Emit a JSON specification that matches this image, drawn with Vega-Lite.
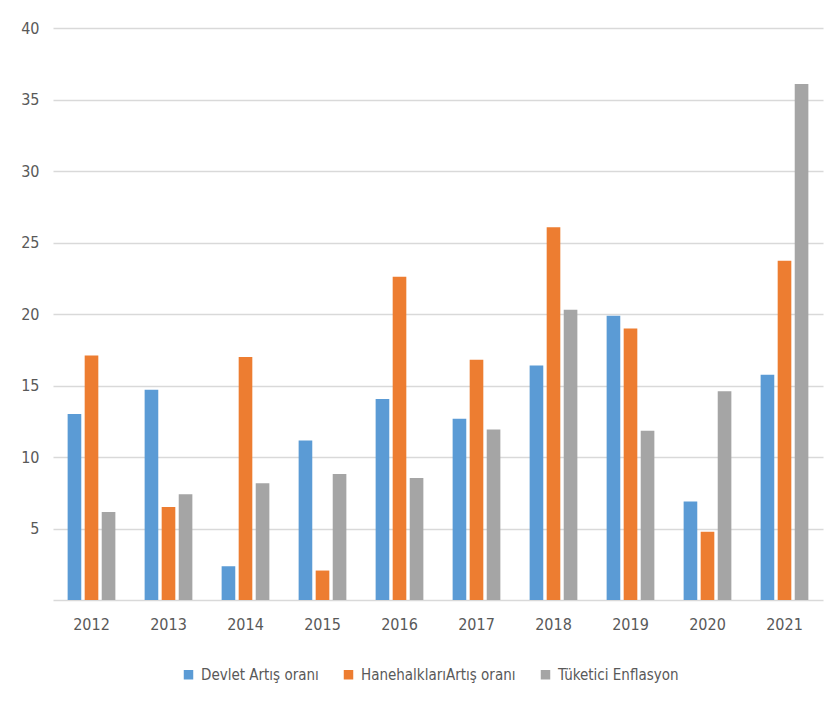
{
  "$schema": "https://vega.github.io/schema/vega-lite/v6.json",
  "width": 770,
  "height": 572,
  "autosize": {"type": "none"},
  "padding": {"left": 53, "top": 28, "right": 16, "bottom": 115},
  "background": "white",
  "data": {
    "values": [
      {"year": "2012", "series": "Devlet Artış oranı", "value": 13.0},
      {"year": "2012", "series": "HanehalklarıArtış oranı", "value": 17.1},
      {"year": "2012", "series": "Tüketici Enflasyon", "value": 6.16},
      {"year": "2013", "series": "Devlet Artış oranı", "value": 14.7},
      {"year": "2013", "series": "HanehalklarıArtış oranı", "value": 6.5},
      {"year": "2013", "series": "Tüketici Enflasyon", "value": 7.4},
      {"year": "2014", "series": "Devlet Artış oranı", "value": 2.36},
      {"year": "2014", "series": "HanehalklarıArtış oranı", "value": 17.0},
      {"year": "2014", "series": "Tüketici Enflasyon", "value": 8.17},
      {"year": "2015", "series": "Devlet Artış oranı", "value": 11.16},
      {"year": "2015", "series": "HanehalklarıArtış oranı", "value": 2.06},
      {"year": "2015", "series": "Tüketici Enflasyon", "value": 8.81},
      {"year": "2016", "series": "Devlet Artış oranı", "value": 14.05},
      {"year": "2016", "series": "HanehalklarıArtış oranı", "value": 22.6},
      {"year": "2016", "series": "Tüketici Enflasyon", "value": 8.53},
      {"year": "2017", "series": "Devlet Artış oranı", "value": 12.67},
      {"year": "2017", "series": "HanehalklarıArtış oranı", "value": 16.8},
      {"year": "2017", "series": "Tüketici Enflasyon", "value": 11.92},
      {"year": "2018", "series": "Devlet Artış oranı", "value": 16.4},
      {"year": "2018", "series": "HanehalklarıArtış oranı", "value": 26.06},
      {"year": "2018", "series": "Tüketici Enflasyon", "value": 20.3},
      {"year": "2019", "series": "Devlet Artış oranı", "value": 19.87},
      {"year": "2019", "series": "HanehalklarıArtış oranı", "value": 18.98},
      {"year": "2019", "series": "Tüketici Enflasyon", "value": 11.84},
      {"year": "2020", "series": "Devlet Artış oranı", "value": 6.88},
      {"year": "2020", "series": "HanehalklarıArtış oranı", "value": 4.78},
      {"year": "2020", "series": "Tüketici Enflasyon", "value": 14.6},
      {"year": "2021", "series": "Devlet Artış oranı", "value": 15.75},
      {"year": "2021", "series": "HanehalklarıArtış oranı", "value": 23.73},
      {"year": "2021", "series": "Tüketici Enflasyon", "value": 36.08}
    ]
  },
  "mark": {"type": "bar"},
  "encoding": {
    "x": {
      "field": "year",
      "type": "nominal",
      "title": null,
      "scale": {"paddingInner": 0.38, "paddingOuter": 0.19},
      "axis": {
        "labelAngle": 0,
        "ticks": false,
        "domainColor": "#D9D9D9",
        "domainWidth": 1.5,
        "labelPadding": 16,
        "labelFontSize": 16,
        "labelColor": "#595959",
        "labelFont": "DejaVu Sans Condensed, sans-serif"
      }
    },
    "xOffset": {
      "field": "series",
      "type": "nominal",
      "scale": {"paddingInner": 0.2, "paddingOuter": 0}
    },
    "y": {
      "field": "value",
      "type": "quantitative",
      "title": null,
      "scale": {"domain": [0, 40], "nice": false},
      "axis": {
        "values": [5, 10, 15, 20, 25, 30, 35, 40],
        "domain": false,
        "ticks": false,
        "gridColor": "#D9D9D9",
        "gridWidth": 1.5,
        "labelPadding": 14,
        "labelFontSize": 16,
        "labelColor": "#595959",
        "labelFont": "DejaVu Sans Condensed, sans-serif"
      }
    },
    "color": {
      "field": "series",
      "type": "nominal",
      "scale": {
        "domain": ["Devlet Artış oranı", "HanehalklarıArtış oranı", "Tüketici Enflasyon"],
        "range": ["#5B9BD5", "#ED7D31", "#A5A5A5"]
      },
      "legend": {
        "title": null,
        "orient": "none",
        "legendX": 128,
        "legendY": 639,
        "direction": "horizontal",
        "symbolType": "square",
        "symbolSize": 90,
        "symbolStrokeWidth": 0,
        "labelOffset": 5,
        "columnPadding": 22,
        "labelLimit": 0,
        "labelFontSize": 15,
        "labelColor": "#595959",
        "labelFont": "DejaVu Sans Condensed, sans-serif"
      }
    }
  },
  "config": {
    "view": {"stroke": null}
  }
}
